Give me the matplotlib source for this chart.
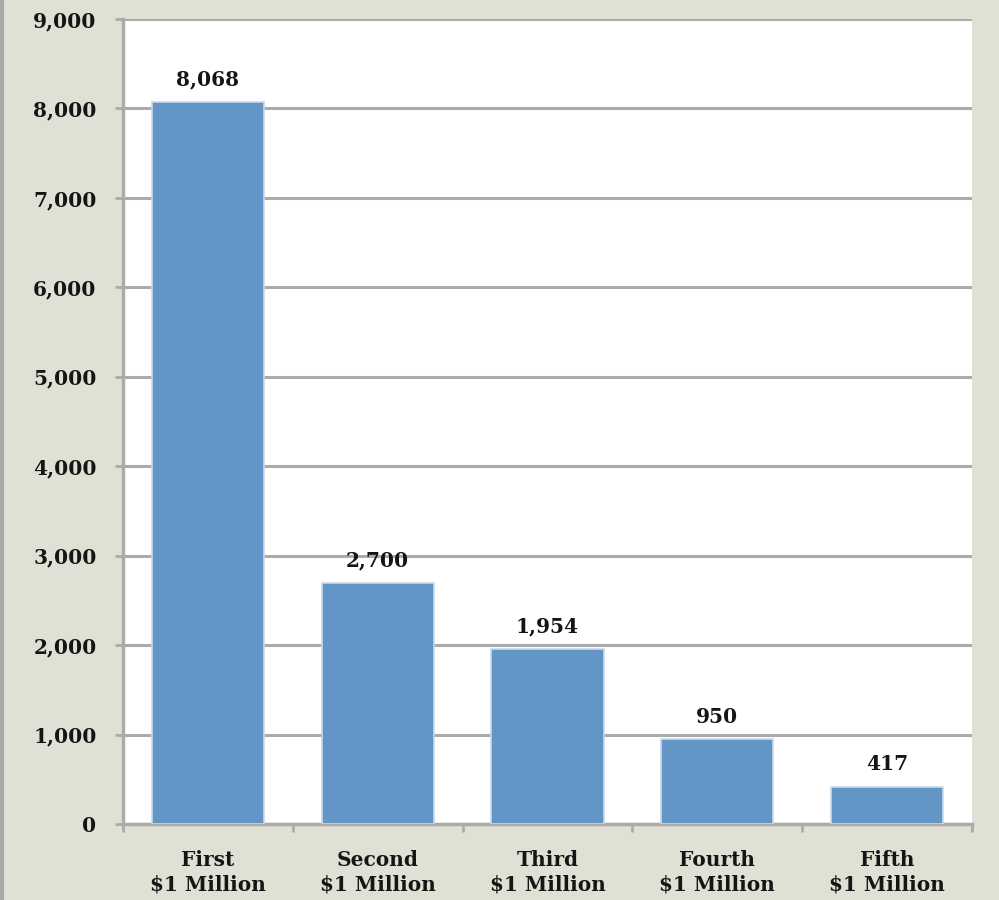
import numpy as np
import matplotlib
matplotlib.use('Agg')
import matplotlib.pyplot as plt
from matplotlib.lines import Line2D

categories = ['First\n$1 Million', 'Second\n$1 Million', 'Third\n$1 Million',
              'Fourth\n$1 Million', 'Fifth\n$1 Million']
values = [8068, 2700, 1954, 950, 417]
yticks = [0, 1000, 2000, 3000, 4000, 5000, 6000, 7000, 8000, 9000]

bg = '#e1e0d5'
bar_col = '#6395c7'
grid_col = '#ababab'
txt = '#151515'
plt.rcParams['font.family'] = ['DejaVu Serif']
plt.rcParams['font.weight'] = 'semibold'

fig = plt.figure(figsize=(9.99, 9), dpi=100, facecolor=bg)
ax = fig.add_axes([0.1231, 0.0844, 0.8499, 0.8945])
ax.set_facecolor('white')

x = np.arange(len(categories))
bars = ax.bar(x, values, width=0.66, color=bar_col, edgecolor='#c9d9ea', linewidth=1.2, zorder=3)
for xi, v in zip(x, values):
    ax.annotate('{:,}'.format(v), (xi, v), xytext=(0, 9), textcoords='offset points',
                ha='center', va='bottom', fontsize=14.5, color=txt)

ax.set_xlim(-0.5, len(categories) - 0.5)
ax.set_ylim(0, 9000)
ax.set_yticks(yticks)
ax.set_yticklabels(['{:,}'.format(t) for t in yticks], fontsize=14.5, color=txt)
ax.yaxis.grid(True, color=grid_col, linewidth=2.2, zorder=0)
ax.set_axisbelow(True)

ax.set_xticks(x)
ax.set_xticklabels(categories, fontsize=14.5, color=txt, linespacing=1.25)
ax.set_xticks(np.arange(len(categories) + 1) - 0.5, minor=True)
ax.tick_params(axis='x', which='major', length=0, pad=19)
ax.tick_params(axis='x', which='minor', length=6, width=2, color=grid_col)
ax.tick_params(axis='y', length=6, width=2, color=grid_col, pad=13)

for s in ['top', 'right']:
    ax.spines[s].set_visible(False)
for s in ['left', 'bottom']:
    ax.spines[s].set_color(grid_col)
    ax.spines[s].set_linewidth(2.5)

fig.add_artist(Line2D([0.002, 0.002], [0, 1], color='#a9a9a9', linewidth=3))

plt.savefig('out.png', dpi=100, facecolor=bg)
